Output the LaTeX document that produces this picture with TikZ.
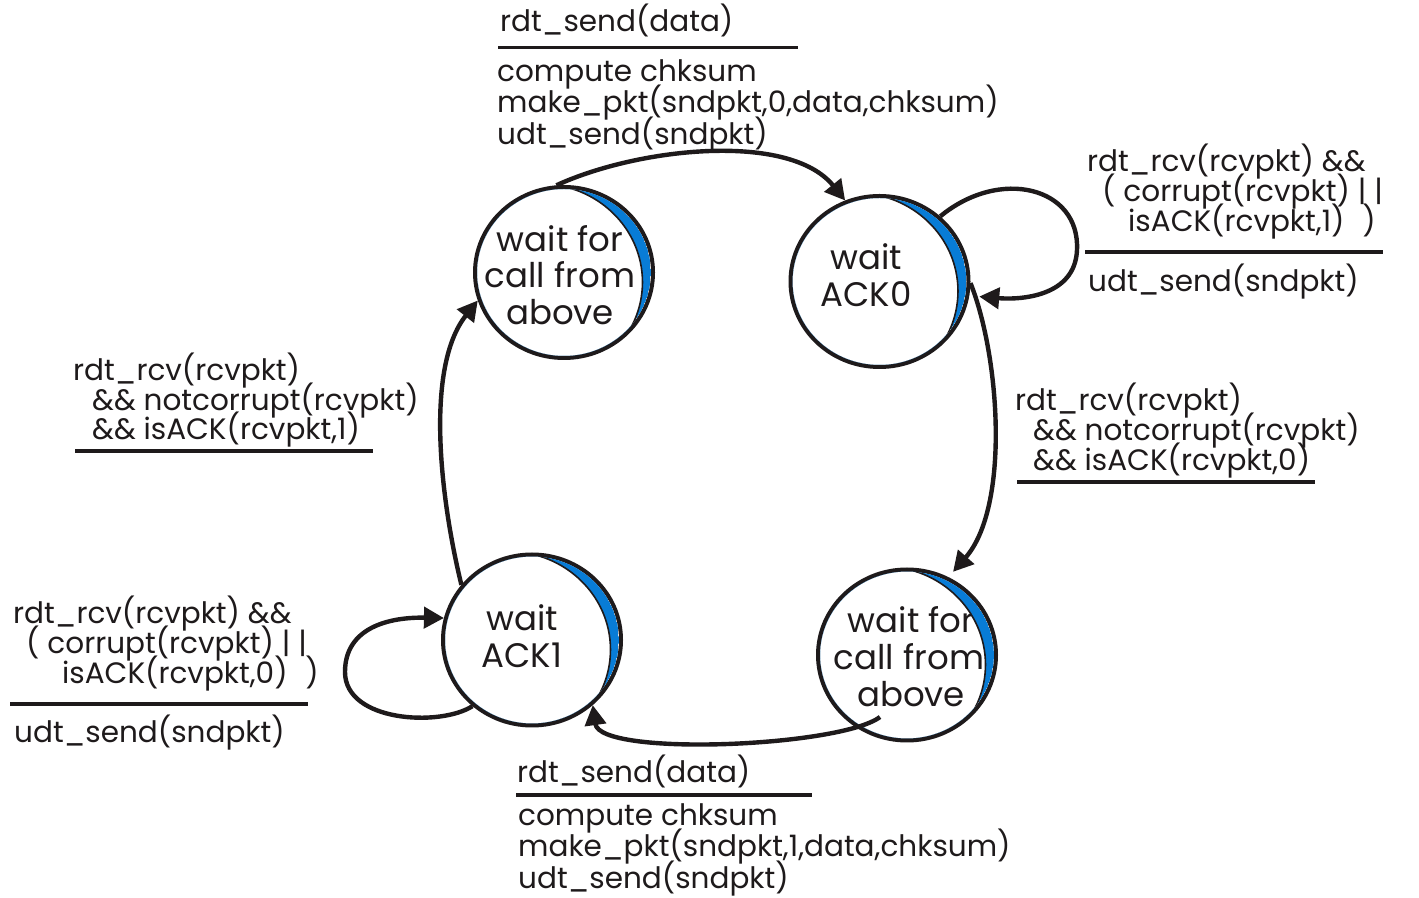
\documentclass[tikz,border=0pt]{standalone}
\usepackage{fontspec}
\setmainfont{Poppins}
\usetikzlibrary{arrows.meta,shapes.geometric}
\definecolor{ink}{RGB}{30,26,27}
\definecolor{moonblue}{RGB}{8,124,214}
\newcommand{\moonshape}[1]{%
  \begin{scope}[shift={(#1.center)},xscale=1.04]
    \begin{scope}
      \clip (0,0) circle[radius=83.5];
      \fill[moonblue,even odd rule] (0,0) circle[radius=83.5] (-22.74,-9.65) circle[radius=98.2];
      \draw[ink,line width=1.6pt] (-22.74,-9.65) circle[radius=98.2];
    \end{scope}
  \end{scope}}
\tikzset{
  statebox/.style={ellipse,draw=ink,line width=4pt,minimum width=178pt,minimum height=171pt,inner sep=0pt},
  stx/.style={anchor=base,inner sep=0pt,text=ink,font=\fontsize{34}{38}\selectfont},
  lbl/.style={anchor=base west,inner sep=0pt,text=ink,font=\fontsize{29.5}{31}\selectfont},
  rule/.style={draw=ink,line width=3.5pt},
  conn/.style={draw=ink,line width=4.4pt,-{Triangle[length=20pt,width=21pt]}}
}
\begin{document}
\begin{tikzpicture}[x=1pt,y=1pt]
\useasboundingbox (0,0) rectangle (1419,897);
\fill[white] (0,0) rectangle (1419,897);

% states
\node[statebox] (s1) at (564,624.5) {};
\node[statebox] (s2) at (879.5,615.5) {};
\node[statebox] (s3) at (532,257) {};
\node[statebox] (s4) at (907,242) {};

% state texts
\node[stx] (s1a) at (560,645) {wait for};
\node[stx] (s1b) at (560,609) {call from};
\node[stx] (s1c) at (560,572) {above};
\node[stx] (s2a) at (866,627) {wait};
\node[stx] (s2b) at (866,590) {ACK0};
\node[stx] (s3a) at (522,266) {wait};
\node[stx] (s3b) at (522,229) {ACK1};
\node[stx] (s4a) at (911,264) {wait for};
\node[stx] (s4b) at (909,227) {call from};
\node[stx] (s4c) at (911,190) {above};

% crescents
\moonshape{s1}
\moonshape{s2}
\moonshape{s3}
\moonshape{s4}

% connectors
\coordinate (d0) at (880,180);
\draw[conn] (s1.95) .. controls (640,750) and (790,765) .. (s2.113);
\draw[conn,shorten >=10pt] (s2.47) .. controls (1000,730) and (1080,710) .. (1077,647)
   .. controls (1075,600) and (1020,597) .. (s2.-9);
\draw[conn,shorten >=7pt] (s2.-1) .. controls (1000,540) and (1010,390) .. (s4.62);
\draw[conn] (d0) .. controls (840,150) and (600,140) .. (s3.-47);
\draw[conn] (s3.-132) .. controls (440,170) and (345,175) .. (345,225)
   .. controls (345,270) and (390,280) .. (s3.166);
\draw[conn] (s3.142) .. controls (440,400) and (425,530) .. (s1.198);

% top label
\node[lbl] (ta1) at (500,865) {rdt\_send(data)};
\draw[rule] (498,849.5) -- (798,849.5);
\node[lbl] (ta2) at (497,815) {compute chksum};
\node[lbl] (ta3) at (497,784) {make\_pkt(sndpkt,0,data,chksum)};
\node[lbl] (ta4) at (497,752) {udt\_send(sndpkt)};

% top right label
\node[lbl] (tb1) at (1087,725) {rdt\_rcv(rcvpkt) \&\&};
\node[lbl] (tb2) at (1102,695) {( corrupt(rcvpkt) | |};
\node[lbl] (tb3) at (1128,665) {isACK(rcvpkt,1)\hspace{0.6em})};
\draw[rule] (1085,645) -- (1383,645);
\node[lbl] (tb4) at (1088,605) {udt\_send(sndpkt)};

% middle left label
\node[lbl] (tc1) at (73,516) {rdt\_rcv(rcvpkt)};
\node[lbl] (tc2) at (92,486) {\&\& notcorrupt(rcvpkt)};
\node[lbl] (tc3) at (92,457) {\&\& isACK(rcvpkt,1)};
\draw[rule] (75,446) -- (373,446);

% middle right label
\node[lbl] (td1) at (1015,486) {rdt\_rcv(rcvpkt)};
\node[lbl] (td2) at (1033,456) {\&\& notcorrupt(rcvpkt)};
\node[lbl] (td3) at (1033,426) {\&\& isACK(rcvpkt,0)};
\draw[rule] (1017,415) -- (1315,415);

% bottom left label
\node[lbl] (te1) at (13,273) {rdt\_rcv(rcvpkt) \&\&};
\node[lbl] (te2) at (26,243) {( corrupt(rcvpkt) | |};
\node[lbl] (te3) at (62,213) {isACK(rcvpkt,0)\hspace{0.6em})};
\draw[rule] (10,193) -- (308,193);
\node[lbl] (te4) at (14,154) {udt\_send(sndpkt)};

% bottom label
\node[lbl] (tf1) at (517,114) {rdt\_send(data)};
\draw[rule] (516,102) -- (812,102);
\node[lbl] (tf2) at (518,71) {compute chksum};
\node[lbl] (tf3) at (518,40) {make\_pkt(sndpkt,1,data,chksum)};
\node[lbl] (tf4) at (518,9) {udt\_send(sndpkt)};
\end{tikzpicture}
\end{document}
